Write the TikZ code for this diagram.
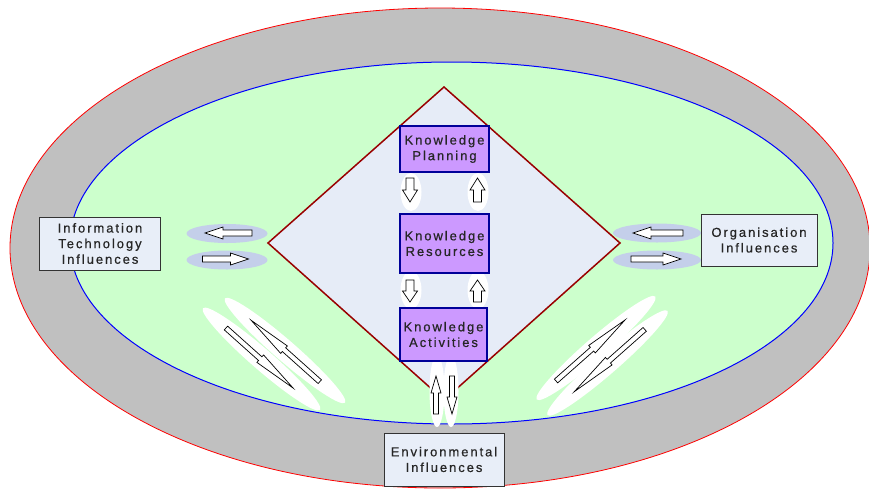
\documentclass[tikz,border=0pt]{standalone}
\usepackage{fontspec}
\setmainfont{Liberation Sans}[LetterSpace=15,FakeBold=0.6]
\usetikzlibrary{shapes.geometric}
\definecolor{outergray}{HTML}{C0C0C0}
\definecolor{innergreen}{HTML}{CCFFCC}
\definecolor{diamfill}{HTML}{E6ECF7}
\definecolor{diamline}{HTML}{990000}
\definecolor{kfill}{HTML}{CC99FF}
\definecolor{kline}{HTML}{000099}
\definecolor{boxfill}{HTML}{E8EEF8}
\definecolor{ellblue}{HTML}{C4CFEA}
\tikzset{
  txt/.style={font=\fontsize{13}{15.6}\selectfont, align=center, inner sep=0pt, text=black!85},
  kbox/.style={txt, rectangle, draw=kline, fill=kfill, line width=1.5pt},
  ibox/.style={txt, rectangle, draw=black!80, fill=boxfill, line width=0.8pt},
  halo/.style={ellipse, fill=white, draw=none, inner sep=0pt},
  bluehalo/.style={ellipse, fill=ellblue, draw=none, inner sep=0pt},
  arrowline/.style={draw=black, fill=white, line width=0.7pt, line join=miter},
}
% \blockarrow{x}{y}{angle}{length}{shaft half}{head half}{head length}
\newcommand\blockarrow[7]{%
  \draw[arrowline, shift={(#1,#2)}, rotate=#3]
    ({-(#4)/2},{-(#5)}) -- ({(#4)/2-(#7)},{-(#5)}) -- ({(#4)/2-(#7)},{-(#6)})
    -- ({(#4)/2},0) -- ({(#4)/2-(#7)},{#6}) -- ({(#4)/2-(#7)},{#5})
    -- ({-(#4)/2},{#5}) -- cycle;}
\begin{document}
\begin{tikzpicture}[x=1pt,y=-1pt]
\useasboundingbox (0,0) rectangle (869,488);
\clip (0,0) rectangle (869,488);
% outer and inner ellipses
\draw[fill=outergray, draw=red, line width=0.8pt] (440,248) ellipse [x radius=430, y radius=240];
\draw[fill=innergreen, draw=blue, line width=1pt] (451.5,243) ellipse [x radius=381.5, y radius=181];
% diamond
\coordinate (dT) at (444,87);
\coordinate (dR) at (620,243);
\coordinate (dB) at (444,400);
\coordinate (dL) at (268,243);
\draw[fill=diamfill, draw=diamline, line width=1.5pt] (dT) -- (dR) -- (dB) -- (dL) -- cycle;

% halos
\node[halo, minimum width=21pt, minimum height=38pt] (h1) at (411,192) {};
\node[halo, minimum width=21pt, minimum height=38pt] (h2) at (478,192) {};
\node[halo, minimum width=21pt, minimum height=38pt] (h3) at (411,290) {};
\node[halo, minimum width=21pt, minimum height=38pt] (h4) at (478,290) {};
\node[halo, minimum width=15pt, minimum height=72pt] (h5) at (437,391) {};
\node[halo, minimum width=15pt, minimum height=72pt] (h6) at (451,391) {};
\node[bluehalo, minimum width=81pt, minimum height=19pt] (h7) at (227,233.5) {};
\node[bluehalo, minimum width=81pt, minimum height=19pt] (h8) at (227,260) {};
\node[bluehalo, minimum width=88pt, minimum height=19pt] (h9) at (657,233) {};
\node[bluehalo, minimum width=88pt, minimum height=19pt] (h10) at (657,260) {};
\node[halo, minimum width=155pt, minimum height=21pt, rotate=-41] (h11) at (261.5,359) {};
\node[halo, minimum width=159pt, minimum height=21pt, rotate=-41] (h12) at (285,350.5) {};
\node[halo, minimum width=157pt, minimum height=21pt, rotate=41] (h13) at (596,348) {};
\node[halo, minimum width=159pt, minimum height=21pt, rotate=41] (h14) at (607.5,363) {};

% knowledge boxes
\node[kbox, minimum width=89pt, minimum height=46pt] (plan) at (444.5,149) {Knowledge\\Planning};
\node[kbox, minimum width=89pt, minimum height=59pt] (res) at (444.5,243.5) {Knowledge\\Resources};
\node[kbox, minimum width=87pt, minimum height=53pt] (act) at (443.5,334.5) {Knowledge\\Activities};

% influence boxes
\node[ibox, minimum width=121pt, minimum height=53pt] (it) at (100,243.5) {Information\\Technology\\Influences};
\node[ibox, minimum width=116pt, minimum height=52pt] (org) at (759,240) {Organisation\\Influences};
\node[ibox, minimum width=120pt, minimum height=53pt] (env) at (444,459.5) {Environmental\\Influences};

% arrows between knowledge boxes
\blockarrow{410}{190}{-90}{24}{4}{7.5}{12}
\blockarrow{477.5}{190}{90}{24}{4}{7.5}{12}
\blockarrow{410}{291}{-90}{22}{4}{7.5}{11}
\blockarrow{477.5}{291}{90}{22}{4}{7.5}{11}
% bottom vertical arrows
\blockarrow{436}{395}{90}{38}{2.5}{5}{17}
\blockarrow{452}{395}{-90}{38}{2.5}{5}{17}
% horizontal arrows
\blockarrow{228.5}{233}{180}{47}{3}{6}{18}
\blockarrow{225.5}{259}{0}{46}{3}{6}{18}
\blockarrow{658}{233}{180}{50}{3}{6}{18}
\blockarrow{656}{259}{0}{50}{3}{6}{18}
% diagonal arrows
\blockarrow{259.5}{358}{-41.8}{90}{2.5}{5}{44}
\blockarrow{285.5}{351}{138.2}{92}{2.5}{5}{44}
\blockarrow{590.5}{350.5}{41.5}{92}{2.5}{5}{44}
\blockarrow{609.5}{360.5}{221.5}{94}{2.5}{5}{46}
\end{tikzpicture}
\end{document}
